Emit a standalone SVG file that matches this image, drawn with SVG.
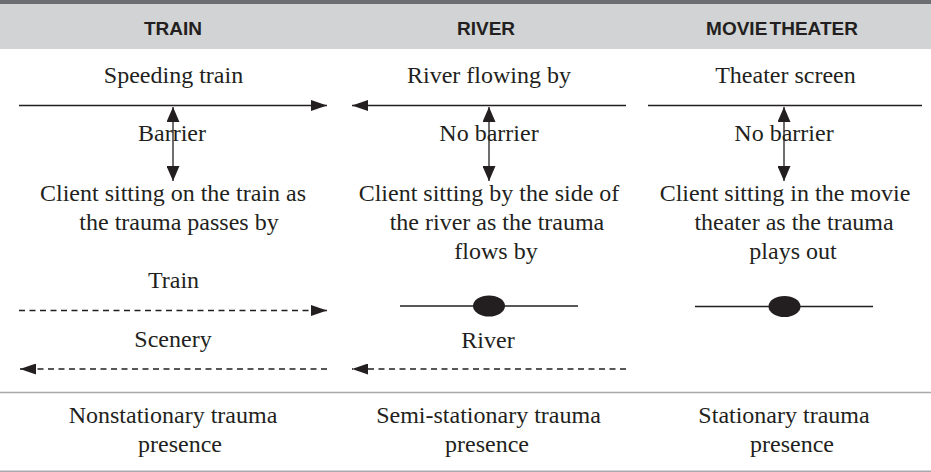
<svg xmlns="http://www.w3.org/2000/svg" width="931" height="472" viewBox="0 0 931 472">
  <defs>
    <style>
      .hd { font-family: "Liberation Sans", Arial, sans-serif; font-weight: bold; font-size: 19px; fill: #231f20; text-anchor: middle; }
      .tx { font-family: "Liberation Serif", "Times New Roman", serif; font-size: 24px; fill: #231f20; text-anchor: middle; }
      .ln { stroke: #231f20; stroke-width: 1.3; fill: none; }
      .dash { stroke: #231f20; stroke-width: 1.3; fill: none; stroke-dasharray: 6 4.5; }
      .rule { stroke: #a7a9ac; stroke-width: 1.6; }
      .dot { fill: #231f20; }
    </style>
    <marker id="ah" viewBox="0 0 16 11" refX="16" refY="5.5" markerWidth="16" markerHeight="11" markerUnits="userSpaceOnUse" orient="auto-start-reverse">
      <path d="M0,0 L16,5.5 L0,11 z" fill="#231f20"/>
    </marker>
    <marker id="av" viewBox="0 0 15 13" refX="15" refY="6.5" markerWidth="15" markerHeight="13" markerUnits="userSpaceOnUse" orient="auto-start-reverse">
      <path d="M0,0 L15,6.5 L0,13 z" fill="#231f20"/>
    </marker>
  </defs>

  <rect width="931" height="472" fill="#ffffff"/>

  <!-- column headings -->
  <g id="header">
    <rect x="0" y="0" width="931" height="49" fill="#d1d3d4"/>
    <rect x="0" y="0" width="931" height="4" fill="#6d6e71"/>
    <text class="hd" x="173" y="35">TRAIN</text>
    <text class="hd" x="486" y="35">RIVER</text>
    <text class="hd" x="782" y="35" word-spacing="-3">MOVIE THEATER</text>
  </g>

  <!-- connectors: motion lines, barrier arrows, fixed points -->
  <g id="connectors">
    <line class="ln" x1="19" y1="105.5" x2="327" y2="105.5" marker-end="url(#ah)"/>
    <line class="ln" x1="626" y1="105.5" x2="352" y2="105.5" marker-end="url(#ah)"/>
    <line class="ln" x1="648" y1="105.5" x2="922" y2="105.5"/>

    <line class="ln" x1="173" y1="107" x2="173" y2="181" marker-start="url(#av)" marker-end="url(#av)"/>
    <line class="ln" x1="489" y1="107" x2="489" y2="181" marker-start="url(#av)" marker-end="url(#av)"/>
    <line class="ln" x1="784" y1="107" x2="784" y2="181" marker-start="url(#av)" marker-end="url(#av)"/>

    <line class="dash" x1="19" y1="310.5" x2="327" y2="310.5" marker-end="url(#ah)"/>
    <line class="dash" x1="327" y1="369" x2="20" y2="369" marker-end="url(#ah)"/>
    <line class="dash" x1="626" y1="369" x2="352" y2="369" marker-end="url(#ah)"/>

    <line class="ln" x1="400" y1="306" x2="578" y2="306"/>
    <line class="ln" x1="695" y1="306.5" x2="873" y2="306.5"/>
  </g>

  <g id="river-point">
    <ellipse class="dot" cx="489" cy="306" rx="16" ry="10.5"/>
  </g>
  <g id="screen-point">
    <ellipse class="dot" cx="784.5" cy="306.5" rx="16" ry="10.5"/>
  </g>

  <!-- train column -->
  <g id="train">
    <text class="tx" x="173.5" y="83">Speeding train</text>
    <text class="tx" x="172" y="141">Barrier</text>
    <text class="tx" x="173" y="201">Client sitting on the train as</text>
    <text class="tx" x="179" y="230">the trauma passes by</text>
    <text class="tx" x="173.5" y="288">Train</text>
    <text class="tx" x="173" y="347">Scenery</text>
  </g>

  <!-- river column -->
  <g id="river">
    <text class="tx" x="489" y="83">River flowing by</text>
    <text class="tx" x="489" y="141">No barrier</text>
    <text class="tx" x="489" y="201">Client sitting by the side of</text>
    <text class="tx" x="497" y="230">the river as the trauma</text>
    <text class="tx" x="496" y="259">flows by</text>
    <text class="tx" x="488" y="348">River</text>
  </g>

  <!-- movie theater column -->
  <g id="theater">
    <text class="tx" x="785.5" y="83">Theater screen</text>
    <text class="tx" x="784" y="141">No barrier</text>
    <text class="tx" x="785" y="201">Client sitting in the movie</text>
    <text class="tx" x="794" y="230">theater as the trauma</text>
    <text class="tx" x="793" y="259">plays out</text>
  </g>

  <!-- summary row -->
  <g id="summary">
    <line class="rule" x1="0" y1="392.5" x2="931" y2="392.5"/>
    <text class="tx" x="173" y="423">Nonstationary trauma</text>
    <text class="tx" x="180" y="452">presence</text>
    <text class="tx" x="488.5" y="423">Semi-stationary trauma</text>
    <text class="tx" x="487" y="452">presence</text>
    <text class="tx" x="784" y="423">Stationary trauma</text>
    <text class="tx" x="792" y="452">presence</text>
    <line class="rule" x1="0" y1="471.2" x2="931" y2="471.2"/>
  </g>
</svg>
